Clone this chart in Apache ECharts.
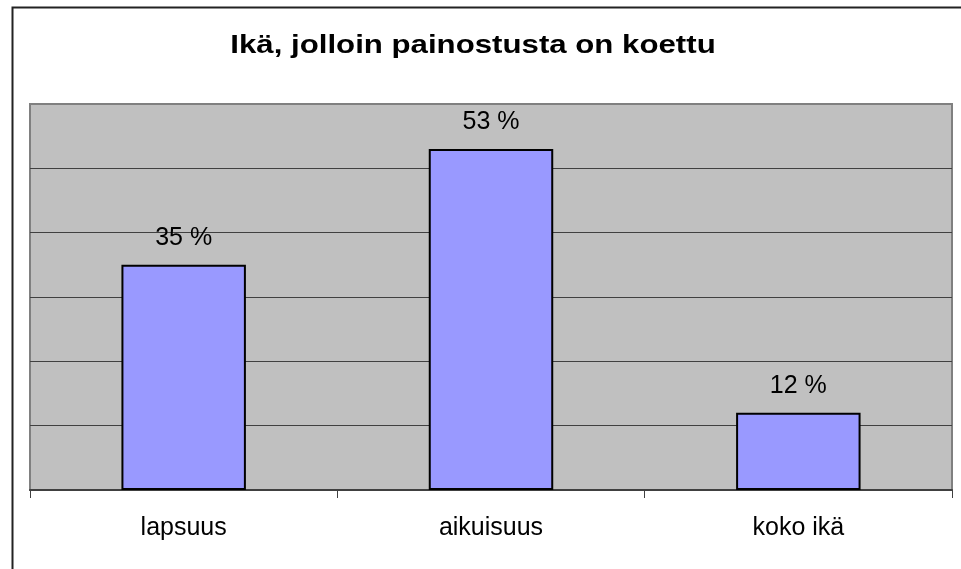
<!DOCTYPE html>
<html>
<head>
<meta charset="utf-8">
<script src="https://cdn.jsdelivr.net/npm/echarts@6/dist/echarts.min.js"></script>
<style>
html,body{margin:0;padding:0;background:#fff;}
#chart{width:961px;height:569px;}
</style>
</head>
<body>
<div id="chart"></div>
<script>
const titleText = 'Ikä, jolloin painostusta on koettu';
const categories = ['lapsuus', 'aikuisuus', 'koko ikä'];
const values = [35, 53, 12];
const yMin = 0, yMax = 60, yInterval = 10;

const chart = echarts.init(document.getElementById('chart'), null, {renderer: 'canvas'});
chart.setOption({
  animation: false,
  backgroundColor: '#ffffff',
  graphic: [{
    type: 'rect', left: 10, top: 5, silent: true,
    shape: {width: 1000, height: 700},
    style: {fill: 'none', stroke: '#222', lineWidth: 2}
  }, {
    type: 'text', x: 473, y: 33, scaleX: 1.2, scaleY: 1, silent: true,
    style: {
      text: titleText, textAlign: 'center', textVerticalAlign: 'top',
      font: 'bold 26px "Liberation Sans", Arial, sans-serif', fill: '#000'
    }
  }],
  grid: {
    left: 30, right: 9, top: 104, bottom: 79,
    show: true, backgroundColor: '#C0C0C0', borderColor: '#808080', borderWidth: 2
  },
  xAxis: {
    type: 'category',
    data: categories,
    boundaryGap: true,
    axisLine: {lineStyle: {color: '#404040', width: 2}},
    axisTick: {show: true, length: 8, lineStyle: {color: '#404040', width: 1}},
    axisLabel: {margin: 26, fontFamily: 'Liberation Sans, Arial, sans-serif', fontSize: 25, color: '#000'},
    splitLine: {show: false}
  },
  yAxis: {
    type: 'value',
    min: yMin, max: yMax, interval: yInterval,
    axisLine: {show: false},
    axisTick: {show: false},
    axisLabel: {show: false},
    splitLine: {show: true, lineStyle: {color: ['#404040','#404040','#404040','#404040','#404040','#404040','#808080'], width: 1}}
  },
  series: [{
    type: 'bar',
    data: values,
    barWidth: '40.5%',
    itemStyle: {color: '#9999FF', borderColor: '#000', borderWidth: 2},
    label: {
      show: true, position: 'top', distance: 14,
      formatter: '{c} %',
      fontFamily: 'Liberation Sans, Arial, sans-serif', fontSize: 25, color: '#000'
    }
  }]
});
</script>
</body>
</html>
